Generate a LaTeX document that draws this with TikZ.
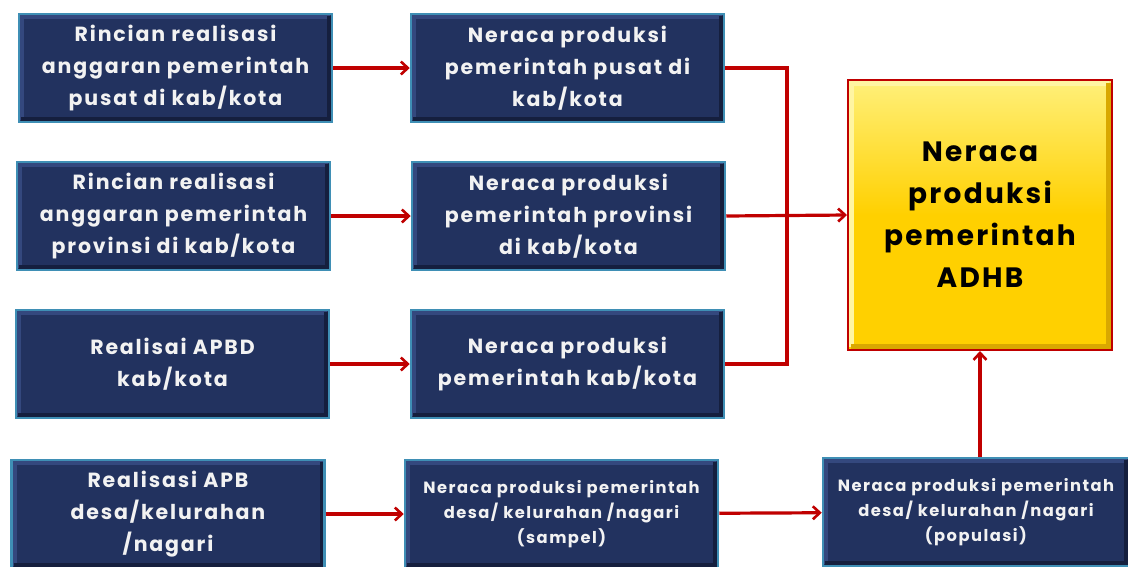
\documentclass[tikz,border=0pt]{standalone}
\usepackage{fontspec}
\setmainfont{Poppins}
\usetikzlibrary{arrows.meta}
\definecolor{navy}{HTML}{22325F}
\definecolor{navylight}{HTML}{34487E}
\definecolor{navydark}{HTML}{151F3E}
\definecolor{navyedge}{HTML}{3F8FB5}
\definecolor{arrowred}{HTML}{C00000}
\definecolor{gold}{HTML}{FFD000}
\definecolor{goldlight}{HTML}{FFF07A}
\definecolor{golddark}{HTML}{D9A800}
\definecolor{offwhite}{HTML}{F2F2F2}
\tikzset{
  bluebox/.style={draw=navyedge, line width=2.5pt, fill=navy, text=offwhite,
    font=\bfseries\fontsize{20.5}{32}\selectfont\addfontfeatures{LetterSpace=9}, align=center,
    minimum width=313pt, minimum height=108pt, inner sep=0pt,
    path picture={
      \draw[navylight, line width=6pt]
        ([xshift=2pt,yshift=2pt]path picture bounding box.south west) |- ([xshift=-2pt,yshift=-2pt]path picture bounding box.north east);
      \draw[navydark, line width=6pt]
        ([xshift=2pt,yshift=2pt]path picture bounding box.south west) -| ([xshift=-2pt,yshift=-2pt]path picture bounding box.north east);
    }},
  smallbox/.style={bluebox, font=\bfseries\fontsize{16.3}{25}\selectfont\addfontfeatures{LetterSpace=9}},
  goldbox/.style={draw=arrowred, line width=2pt, top color=goldlight, bottom color=gold,
    middle color=gold, text=black, font=\bfseries\fontsize{28}{42}\selectfont\addfontfeatures{LetterSpace=8}, align=center,
    minimum width=264pt, minimum height=270pt, inner sep=0pt,
    path picture={
      \draw[goldlight!70!white, line width=6pt]
        ([xshift=3pt,yshift=3pt]path picture bounding box.south west) |- ([xshift=-3pt,yshift=-3pt]path picture bounding box.north east);
      \draw[golddark, line width=6pt]
        ([xshift=3pt,yshift=3pt]path picture bounding box.south west) -| ([xshift=-3pt,yshift=-3pt]path picture bounding box.north east);
    }},
  link/.style={draw=arrowred, line width=3.2pt, -{Straight Barb[length=7pt,width=13pt,line width=2.6pt]}},
  plain/.style={draw=arrowred, line width=3.2pt}
}
\begin{document}
\begin{tikzpicture}[x=1pt,y=-1pt]
\useasboundingbox (0,0) rectangle (1128,566);
\clip (0,0) rectangle (1128,566);
\fill[white] (0,0) rectangle (1128,566);
\node[bluebox] (a1) at (175.5,68) {Rincian realisasi\\anggaran pemerintah\\pusat di kab/kota};
\node[bluebox] (b1) at (567.5,68) {Neraca produksi\\pemerintah pusat di\\kab/kota};
\node[bluebox] (a2) at (173.5,216) {Rincian realisasi\\anggaran pemerintah\\provinsi di kab/kota};
\node[bluebox] (b2) at (568.5,216) {Neraca produksi\\pemerintah provinsi\\di kab/kota};
\node[bluebox] (a3) at (172.5,364) {Realisai APBD\\kab/kota};
\node[bluebox] (b3) at (567.5,364) {Neraca produksi\\pemerintah kab/kota};
\node[bluebox] (a4) at (168,514) {Realisasi APB\\desa/kelurahan\\/nagari};
\node[smallbox] (b4) at (561.5,514) {Neraca produksi pemerintah\\desa/ kelurahan /nagari\\(sampel)};
\node[smallbox, minimum width=306pt] (c4) at (976,512) {Neraca produksi pemerintah\\desa/ kelurahan /nagari\\(populasi)};
\node[goldbox] (y) at (980,215) {Neraca\\produksi\\pemerintah\\ADHB};
\coordinate (bus) at (787,68);
\draw[link] (a1) -- (b1);
\draw[link] (a2) -- (b2);
\draw[link] (a3) -- (b3);
\draw[link] (a4) -- (b4);
\draw[link] (b4) -- (c4);
\draw[plain] (b1.east) -- (bus) |- (b3.east);
\draw[link] (b2.east) -- (y.west);
\draw[link] (c4.north -| y.south) -- (y.south);
\end{tikzpicture}
\end{document}
